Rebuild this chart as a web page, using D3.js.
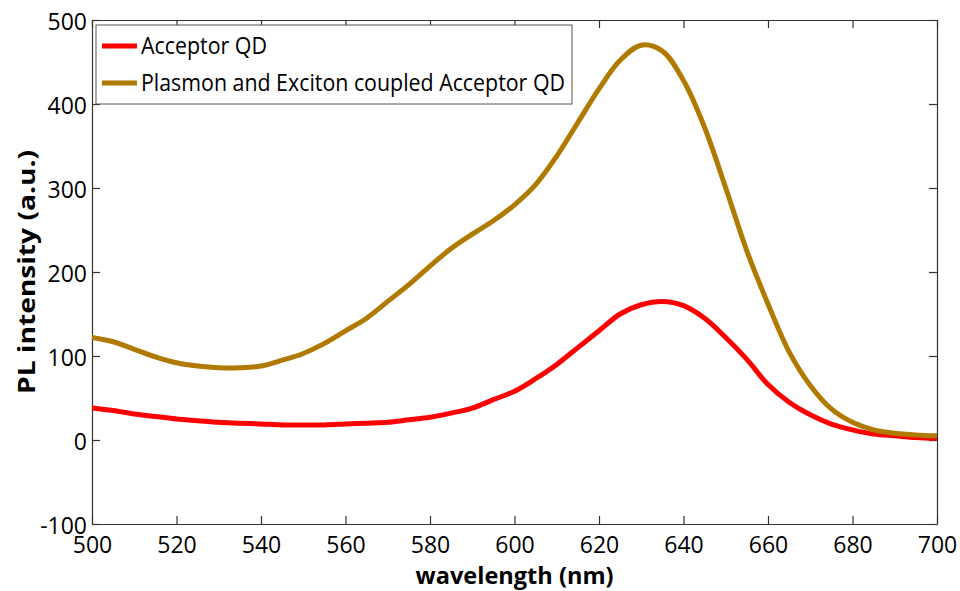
<!DOCTYPE html>
<html lang="en">
<head>
<meta charset="UTF-8">
<title>PL spectra</title>
<script src="https://d3js.org/d3.v7.min.js"></script>
<style>
  body { margin: 0; background: #fff; }
  text { font-family: "Open Sans", "DejaVu Sans", sans-serif; fill: #000; }
</style>
</head>
<body>
<script>
// wavelength grid (nm)
var wavelength = [500,505,510,515,520,525,530,535,540,545,550,555,560,565,570,575,580,585,590,595,
                  600,605,610,615,620,625,630,635,640,645,650,655,660,665,670,675,680,685,690,695,700];

// Acceptor QD
var acceptorQD = [38,35,31,28,25,23,21,20,19,18,18,18,19,20,21,24,27,32,38,48,
                  58,73,90,110,130,150,161,165,160,145,122,96,66,45,30,19,12,7,5,3,2];

// Plasmon and Exciton coupled Acceptor QD
var coupledQD = [122,117,108,99,92,88,86,86,88,95,103,115,130,145,165,185,207,228,245,261,
                 280,304,338,378,418,452,470,463,428,372,300,225,162,105,65,37,21,12,8,6,5];

var xTicks = [500,520,540,560,580,600,620,640,660,680,700];
var yTicks = [-100,0,100,200,300,400,500];

var series = [
  {name: "Acceptor QD", values: acceptorQD, color: "#ff0000"},
  {name: "Plasmon and Exciton coupled Acceptor QD", values: coupledQD, color: "#b07a00"}
];

var W = 960, H = 591;
var margin = {left: 92, right: 23, top: 20, bottom: 67};

var svg = d3.select("body").append("svg")
    .attr("width", W)
    .attr("height", H);

var x = d3.scaleLinear().domain([500, 700]).range([margin.left, W - margin.right]);
var y = d3.scaleLinear().domain([-100, 500]).range([H - margin.bottom, margin.top]);

var axisColor = "#333";
var tickLen = 8;
var plain = function(d) { return String(d); };   // hyphen minus like the original

// axes (ticks pointing inward, box on)
var gx = svg.append("g")
    .attr("transform", "translate(0," + y(-100) + ")")
    .call(d3.axisBottom(x).tickValues(xTicks).tickSizeInner(-tickLen).tickSizeOuter(0).tickPadding(13).tickFormat(plain));
var gxTop = svg.append("g")
    .attr("transform", "translate(0," + y(500) + ")")
    .call(d3.axisTop(x).tickValues(xTicks).tickSizeInner(-tickLen).tickSizeOuter(0).tickFormat(""));
var gy = svg.append("g")
    .attr("transform", "translate(" + x(500) + ",0)")
    .call(d3.axisLeft(y).tickValues(yTicks).tickSizeInner(-tickLen).tickSizeOuter(0).tickPadding(5).tickFormat(plain));
var gyRight = svg.append("g")
    .attr("transform", "translate(" + x(700) + ",0)")
    .call(d3.axisRight(y).tickValues(yTicks).tickSizeInner(-tickLen).tickSizeOuter(0).tickFormat(""));

[gx, gxTop, gy, gyRight].forEach(function(g) {
  g.selectAll("path, line").attr("stroke", axisColor).attr("stroke-width", 1.2);
  g.selectAll("text").style("font-size", "23px").attr("fill", "#000");
});
gx.selectAll("text").attr("dy", "0.71em");
gy.selectAll("text").attr("dy", "0.42em");

// curves
var line = d3.line()
    .x(function(d, i) { return x(wavelength[i]); })
    .y(function(d) { return y(d); })
    .curve(d3.curveCatmullRom.alpha(0.5));

svg.selectAll(".curve")
  .data(series)
  .enter()
  .append("path")
  .attr("class", "curve")
  .attr("d", function(s) { return line(s.values); })
  .attr("fill", "none")
  .attr("stroke", function(s) { return s.color; })
  .attr("stroke-width", 5)
  .attr("stroke-linejoin", "round");

// axis labels
svg.append("text")
  .attr("x", (x(500) + x(700)) / 2)
  .attr("y", 584)
  .attr("text-anchor", "middle")
  .style("font-size", "24px")
  .style("font-weight", "bold")
  .attr("textLength", 198)
  .attr("lengthAdjust", "spacingAndGlyphs")
  .text("wavelength (nm)");

svg.append("text")
  .attr("transform", "translate(35," + (y(200)) + ") rotate(-90)")
  .attr("text-anchor", "middle")
  .style("font-size", "24px")
  .style("font-weight", "bold")
  .attr("textLength", 244)
  .attr("lengthAdjust", "spacingAndGlyphs")
  .text("PL intensity (a.u.)");

// legend
var legend = svg.append("g");
legend.append("rect")
  .attr("x", 96).attr("y", 25)
  .attr("width", 476).attr("height", 79)
  .attr("fill", "#fff")
  .attr("stroke", "#555")
  .attr("stroke-width", 1);

var legendWidths = [126, 424];
var items = legend.selectAll(".item")
  .data(series)
  .enter()
  .append("g")
  .attr("transform", function(d, i) { return "translate(0," + (46 + i * 37) + ")"; });
items.append("line")
  .attr("x1", 102).attr("x2", 137)
  .attr("stroke", function(d) { return d.color; })
  .attr("stroke-width", 5);
items.append("text")
  .attr("x", 141)
  .attr("dy", "0.36em")
  .style("font-size", "23px")
  .attr("textLength", function(d, i) { return legendWidths[i]; })
  .attr("lengthAdjust", "spacingAndGlyphs")
  .text(function(d) { return d.name; });
</script>
</body>
</html>
